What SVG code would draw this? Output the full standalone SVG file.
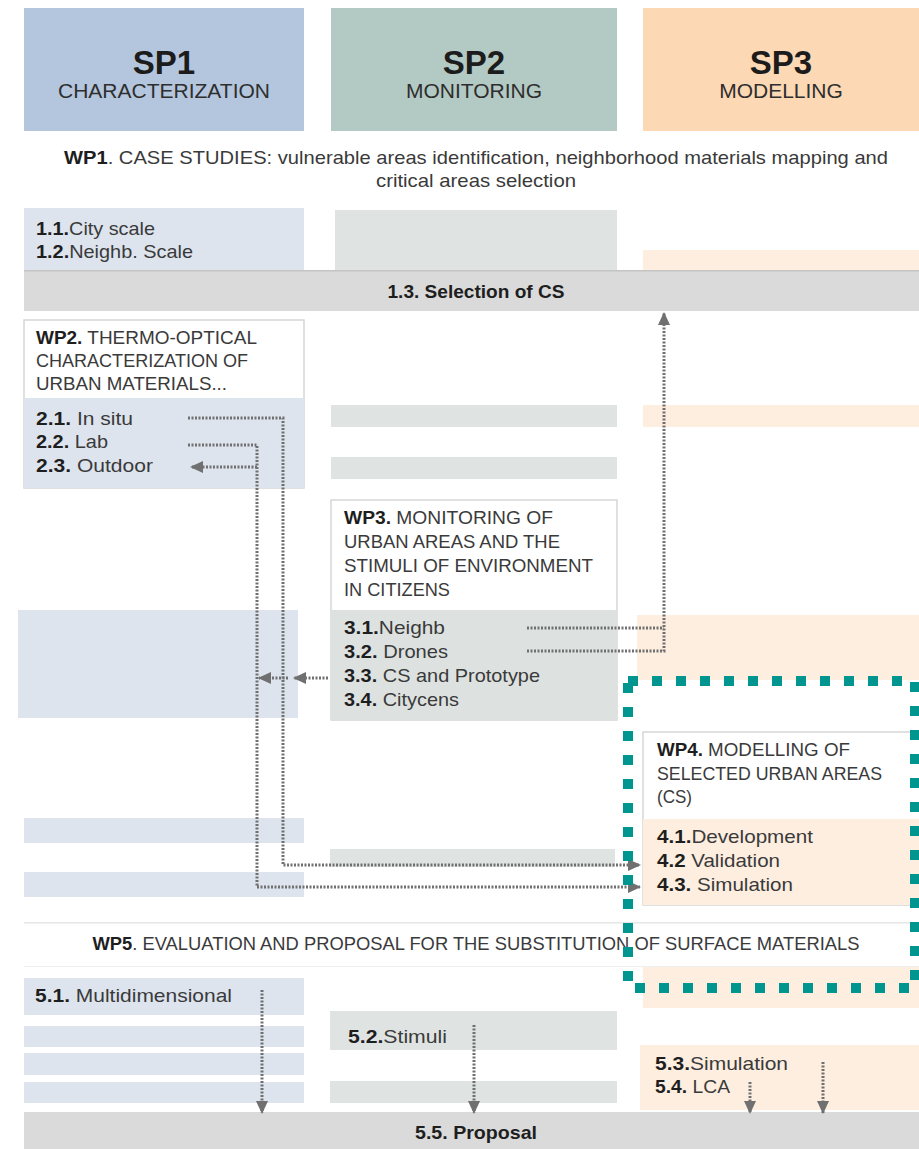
<svg xmlns="http://www.w3.org/2000/svg" width="919" height="1149" viewBox="0 0 919 1149">
  <style>
    .sp { font-family: "Liberation Sans", Arial, sans-serif; font-weight: bold; font-size: 33px; fill: #1c1c1c; text-anchor: middle; }
    .sub { font-family: "Liberation Sans", Arial, sans-serif; font-size: 21px; fill: #2e2e2e; text-anchor: middle; }
    .t { font-family: "Liberation Sans", Arial, sans-serif; font-size: 19px; fill: #3a3a3a; }
    .c { text-anchor: middle; }
    .b { font-weight: bold; fill: #1e1e1e; }
    .blue { fill: #dde4ee; }
    .green { fill: #dfe4e2; }
    .peach { fill: #fdeee0; }
    .bar { fill: #dadada; }
    .wp { fill: #ffffff; stroke: #d6d6d6; stroke-width: 1.5; }
    .dot { fill: none; stroke: #707070; stroke-width: 3; stroke-dasharray: 2 1.5; }
    .focus { fill: none; stroke: #00968f; stroke-width: 10; stroke-dasharray: 10 14; }
  </style>
  <defs>
    <marker id="head" markerUnits="userSpaceOnUse" markerWidth="14" markerHeight="12" refX="12" refY="6" orient="auto">
      <path d="M0,0 L13,6 L0,12 Z" fill="#707070"/>
    </marker>
  </defs>

  <rect width="919" height="1149" fill="#ffffff"/>

  <!-- sub-project headers -->
  <g id="sp1">
    <rect x="24" y="8" width="280" height="123" fill="#b4c6de"/>
    <text class="sp" x="164" y="74">SP1</text>
    <text class="sub" x="164" y="98">CHARACTERIZATION</text>
  </g>
  <g id="sp2">
    <rect x="331" y="8" width="286" height="123" fill="#b3c9c3"/>
    <text class="sp" x="474" y="74">SP2</text>
    <text class="sub" x="474" y="98">MONITORING</text>
  </g>
  <g id="sp3">
    <rect x="643" y="8" width="276" height="123" fill="#fcd8b4"/>
    <text class="sp" x="781" y="74">SP3</text>
    <text class="sub" x="781" y="98">MODELLING</text>
  </g>

  <!-- column background bands -->
  <g id="bands">
    <rect class="green" x="335" y="210" width="282" height="60"/>
    <rect class="peach" x="643" y="250" width="276" height="20"/>
    <rect class="green" x="331" y="405" width="286" height="22"/>
    <rect class="peach" x="643" y="405" width="276" height="22"/>
    <rect class="green" x="331" y="457" width="286" height="22"/>
    <rect class="blue" x="18" y="610" width="280" height="108"/>
    <rect class="peach" x="637" y="615" width="282" height="65"/>
    <rect class="blue" x="24" y="818" width="280" height="25"/>
    <rect class="blue" x="24" y="872" width="280" height="25"/>
    <rect class="green" x="330" y="849" width="285" height="18"/>
    <rect class="peach" x="643" y="967" width="276" height="41"/>
    <rect class="blue" x="24" y="1026" width="280" height="21"/>
    <rect class="blue" x="24" y="1053" width="280" height="22"/>
    <rect class="blue" x="24" y="1082" width="280" height="21"/>
    <rect class="green" x="330" y="1081" width="287" height="22"/>
  </g>

  <!-- WP1 -->
  <g id="wp1">
    <text class="t c" x="476" y="164" font-size="18" textLength="824" lengthAdjust="spacingAndGlyphs"><tspan class="b">WP1</tspan>. CASE STUDIES: vulnerable areas identification, neighborhood materials mapping and</text>
    <text class="t c" x="476" y="187" font-size="18" textLength="200" lengthAdjust="spacingAndGlyphs">critical areas selection</text>
  </g>
  <g id="wp1-sp1">
    <rect class="blue" x="24" y="208" width="280" height="62"/>
    <text class="t" x="36" y="235" textLength="119" lengthAdjust="spacingAndGlyphs"><tspan class="b">1.1.</tspan>City scale</text>
    <text class="t" x="36" y="258" textLength="157" lengthAdjust="spacingAndGlyphs"><tspan class="b">1.2.</tspan>Neighb. Scale</text>
  </g>
  <g id="selection">
    <rect class="bar" x="24" y="270" width="895" height="41"/>
    <rect x="24" y="270" width="895" height="1.5" fill="#c4c4c4"/>
    <text class="t c b" x="476" y="298" textLength="177" lengthAdjust="spacingAndGlyphs">1.3. Selection of CS</text>
  </g>

  <!-- WP2 -->
  <g id="wp2">
    <rect class="wp" x="24" y="320" width="280" height="168"/>
    <rect class="blue" x="24" y="398" width="280" height="90"/>
    <text class="t" x="36" y="344" textLength="221" lengthAdjust="spacingAndGlyphs"><tspan class="b">WP2.</tspan> THERMO-OPTICAL</text>
    <text class="t" x="36" y="367" textLength="212" lengthAdjust="spacingAndGlyphs">CHARACTERIZATION OF</text>
    <text class="t" x="36" y="390" textLength="191" lengthAdjust="spacingAndGlyphs">URBAN MATERIALS...</text>
    <text class="t" x="36" y="425" textLength="97" lengthAdjust="spacingAndGlyphs"><tspan class="b">2.1.</tspan> In situ</text>
    <text class="t" x="36" y="448" textLength="72" lengthAdjust="spacingAndGlyphs"><tspan class="b">2.2.</tspan> Lab</text>
    <text class="t" x="36" y="472" textLength="117" lengthAdjust="spacingAndGlyphs"><tspan class="b">2.3.</tspan> Outdoor</text>
  </g>

  <!-- WP3 -->
  <g id="wp3">
    <rect class="wp" x="331" y="500" width="286" height="220"/>
    <rect fill="#dde2e1" x="331" y="610" width="286" height="110"/>
    <text class="t" x="344" y="524" textLength="209" lengthAdjust="spacingAndGlyphs"><tspan class="b">WP3.</tspan> MONITORING OF</text>
    <text class="t" x="344" y="548" textLength="216" lengthAdjust="spacingAndGlyphs">URBAN AREAS AND THE</text>
    <text class="t" x="344" y="572" textLength="249" lengthAdjust="spacingAndGlyphs">STIMULI OF ENVIRONMENT</text>
    <text class="t" x="344" y="596" textLength="106" lengthAdjust="spacingAndGlyphs">IN CITIZENS</text>
    <text class="t" x="344" y="634" textLength="101" lengthAdjust="spacingAndGlyphs"><tspan class="b">3.1.</tspan>Neighb</text>
    <text class="t" x="344" y="658" textLength="104" lengthAdjust="spacingAndGlyphs"><tspan class="b">3.2.</tspan> Drones</text>
    <text class="t" x="344" y="682" textLength="196" lengthAdjust="spacingAndGlyphs"><tspan class="b">3.3.</tspan> CS and Prototype</text>
    <text class="t" x="344" y="706" textLength="115" lengthAdjust="spacingAndGlyphs"><tspan class="b">3.4.</tspan> Citycens</text>
  </g>

  <!-- WP4 -->
  <g id="wp4">
    <rect class="wp" x="643" y="732" width="280" height="173"/>
    <rect class="peach" x="643" y="819" width="276" height="86"/>
    <text class="t" x="657" y="756" textLength="193" lengthAdjust="spacingAndGlyphs"><tspan class="b">WP4.</tspan> MODELLING OF</text>
    <text class="t" x="657" y="780" textLength="225" lengthAdjust="spacingAndGlyphs">SELECTED URBAN AREAS</text>
    <text class="t" x="657" y="803" textLength="35" lengthAdjust="spacingAndGlyphs">(CS)</text>
    <text class="t" x="657" y="843" textLength="156" lengthAdjust="spacingAndGlyphs"><tspan class="b">4.1.</tspan>Development</text>
    <text class="t" x="657" y="867" textLength="123" lengthAdjust="spacingAndGlyphs"><tspan class="b">4.2</tspan> Validation</text>
    <text class="t" x="657" y="891" textLength="136" lengthAdjust="spacingAndGlyphs"><tspan class="b">4.3.</tspan> Simulation</text>
  </g>

  <!-- WP5 -->
  <g id="wp5">
    <rect x="24" y="922" width="895" height="45" fill="#ffffff"/>
    <rect x="24" y="922" width="895" height="1.5" fill="#e6e6e6"/>
    <rect x="24" y="966" width="895" height="1" fill="#eeeeee"/>
    <text class="t c" x="476" y="950" font-size="18" textLength="767" lengthAdjust="spacingAndGlyphs"><tspan class="b">WP5</tspan>. EVALUATION AND PROPOSAL FOR THE SUBSTITUTION OF SURFACE MATERIALS</text>
  </g>
  <g id="wp5-sp1">
    <rect class="blue" x="24" y="978" width="280" height="37"/>
    <text class="t" x="35" y="1002" textLength="197" lengthAdjust="spacingAndGlyphs"><tspan class="b">5.1.</tspan> Multidimensional</text>
  </g>
  <g id="wp5-sp2">
    <rect class="green" x="330" y="1011" width="287" height="39"/>
    <text class="t" x="348" y="1043" textLength="99" lengthAdjust="spacingAndGlyphs"><tspan class="b">5.2.</tspan>Stimuli</text>
  </g>
  <g id="wp5-sp3">
    <rect class="peach" x="640" y="1045" width="279" height="65"/>
    <text class="t" x="655" y="1070" textLength="133" lengthAdjust="spacingAndGlyphs"><tspan class="b">5.3.</tspan>Simulation</text>
    <text class="t" x="655" y="1093" textLength="75" lengthAdjust="spacingAndGlyphs"><tspan class="b">5.4.</tspan> LCA</text>
  </g>
  <g id="proposal">
    <rect class="bar" x="24" y="1112" width="895" height="37"/>
    <text class="t c b" x="476" y="1139" textLength="122" lengthAdjust="spacingAndGlyphs">5.5. Proposal</text>
  </g>

  <!-- dotted links between work packages -->
  <g id="connectors">
    <polyline class="dot" points="188,418 283,418 283,865 640,865" marker-end="url(#head)"/>
    <polyline class="dot" points="188,445 257,445 257,887 640,887" marker-end="url(#head)"/>
    <polyline class="dot" points="257,467 191,467" marker-end="url(#head)"/>
    <polyline class="dot" points="328,678 294,678" marker-end="url(#head)"/>
    <polyline class="dot" points="288,678 259,678" marker-end="url(#head)"/>
    <polyline class="dot" points="527,628 664,628"/>
    <polyline class="dot" points="527,651 664,651 664,313" marker-end="url(#head)"/>
    <polyline class="dot" points="262,990 262,1113" marker-end="url(#head)"/>
    <polyline class="dot" points="474,1025 474,1113" marker-end="url(#head)"/>
    <polyline class="dot" points="750,1082 750,1113" marker-end="url(#head)"/>
    <polyline class="dot" points="823,1062 823,1113" marker-end="url(#head)"/>
  </g>

  <!-- highlight frame round WP4 -->
  <g id="highlight">
    <rect class="focus" x="628" y="681" width="287" height="307"/>
  </g>
</svg>
